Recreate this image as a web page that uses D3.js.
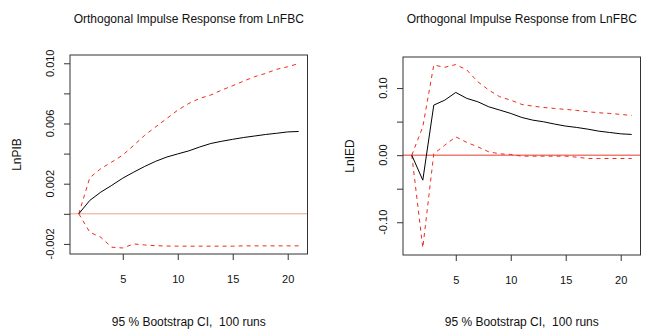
<!DOCTYPE html>
<html>
<head>
<meta charset="utf-8">
<script src="https://cdn.jsdelivr.net/npm/d3@7"></script>
<style>
  body { margin: 0; background: #fff; }
  text { font-family: "Liberation Sans", Arial, sans-serif; fill: #111; }
</style>
</head>
<body>
<div id="chart-area"></div>
<script>
// horizons 1..21
var horizon = d3.range(1, 22);

// response of LnPIB to LnFBC
var pibIrf = [0, 0.00089, 0.00144, 0.00189, 0.00237, 0.00277, 0.00315, 0.00349, 0.00377, 0.00398, 0.00418,
              0.00444, 0.00467, 0.00482, 0.00495, 0.00507, 0.00517, 0.00527, 0.00535, 0.00544, 0.00547];
var pibUpper = [0, 0.00240, 0.00300, 0.00344, 0.00390, 0.00455, 0.00522, 0.00578, 0.00633, 0.00689, 0.00733,
                0.00767, 0.00789, 0.00822, 0.00851, 0.00882, 0.00911, 0.00933, 0.00960, 0.00977, 0.00998];
var pibLower = [0, -0.00122, -0.00156, -0.00222, -0.00227, -0.00200, -0.00207, -0.00212, -0.00214, -0.00215, -0.00215,
                -0.00215, -0.00215, -0.00215, -0.00215, -0.00213, -0.00213, -0.00213, -0.00213, -0.00213, -0.00213];

// response of LnIED to LnFBC
var iedIrf = [0, -0.0373, 0.0746, 0.0820, 0.0935, 0.0846, 0.0796, 0.0721, 0.0672, 0.0622, 0.0562,
              0.0522, 0.0497, 0.0463, 0.0433, 0.0413, 0.0388, 0.0358, 0.0338, 0.0318, 0.0309];
var iedUpper = [0, 0.0423, 0.1343, 0.1310, 0.1350, 0.1270, 0.1094, 0.0970, 0.0870, 0.0820, 0.0756,
                0.0731, 0.0711, 0.0696, 0.0682, 0.0667, 0.0647, 0.0632, 0.0622, 0.0607, 0.0592];
var iedLower = [0, -0.1380, 0.0020, 0.0149, 0.0273, 0.0190, 0.0124, 0.0050, 0.0020, 0.0010, -0.0015,
                -0.0015, -0.0015, -0.0015, -0.0015, -0.0030, -0.0050, -0.0050, -0.0050, -0.0050, -0.0050];

var xTicks = [5, 10, 15, 20];
var pibTicks = [-0.002, 0, 0.002, 0.004, 0.006, 0.008, 0.010];
var pibLabels = [-0.002, 0.002, 0.006, 0.010];
var iedTicks = [-0.10, -0.05, 0, 0.05, 0.10];
var iedLabels = [-0.10, 0.00, 0.10];

var svg = d3.select("#chart-area").append("svg").attr("width", 652).attr("height", 336);

function panel(p) {
	var x = d3.scaleLinear().domain([0.2, 21.8]).range([p.left, p.right]);
	var y = d3.scaleLinear().domain(p.yDomain).range([p.bottom, p.top]);
	var g = svg.append("g");
	var mid = (p.left + p.right) / 2;

	g.append("text").attr("x", mid).attr("y", 23).attr("text-anchor", "middle")
		.attr("font-size", "12px").text("Orthogonal Impulse Response from LnFBC");
	g.append("text").attr("x", mid).attr("y", 326).attr("text-anchor", "middle")
		.attr("font-size", "12px").attr("xml:space", "preserve").text("95 % Bootstrap CI,  100 runs");
	g.append("text").attr("transform", "translate(" + (p.left - 49) + "," + ((p.top + p.bottom) / 2) + ") rotate(-90)")
		.attr("text-anchor", "middle").attr("font-size", "12px").text(p.ylab);

	// zero line
	g.append("line").attr("x1", p.left).attr("x2", p.right).attr("y1", y(0)).attr("y2", y(0))
		.attr("stroke", p.zeroCol).attr("stroke-width", 1);

	var line = d3.line().x((d, i) => x(horizon[i])).y((d) => y(d));
	[p.upper, p.lower].forEach((s) => {
		g.append("path").datum(s).attr("d", line).attr("fill", "none")
			.attr("stroke", "#ee2a1e").attr("stroke-width", 1).attr("stroke-dasharray", "4,4");
	});
	g.append("path").datum(p.irf).attr("d", line).attr("fill", "none")
		.attr("stroke", "#000").attr("stroke-width", 1);

	// box
	g.append("rect").attr("x", p.left).attr("y", p.top).attr("width", p.right - p.left).attr("height", p.bottom - p.top)
		.attr("fill", "none").attr("stroke", "#333").attr("stroke-width", 1);

	// x axis
	var xAxis = d3.axisBottom(x).tickValues(xTicks).tickSize(6).tickPadding(15).tickFormat(d3.format("d"));
	var xg = g.append("g").attr("transform", "translate(0," + p.bottom + ")").call(xAxis);
	xg.select(".domain").remove();
	xg.selectAll("line").attr("stroke", "#333");
	xg.selectAll("text").attr("font-size", "11px").attr("font-family", "Liberation Sans, Arial, sans-serif").attr("fill", "#111");

	// y axis, labels rotated like R
	var yAxis = d3.axisLeft(y).tickValues(p.ticks).tickSize(6).tickFormat("");
	var yg = g.append("g").attr("transform", "translate(" + p.left + ",0)").call(yAxis);
	yg.select(".domain").remove();
	yg.selectAll("line").attr("stroke", "#333");
	g.selectAll(".ylab" + p.ylab).data(p.labels).enter().append("text")
		.attr("transform", (d) => "translate(" + (p.left - 16) + "," + y(d) + ") rotate(-90)")
		.attr("text-anchor", "middle").attr("font-size", "11px")
		.text((d) => d3.format(p.fmt)(d).replace("−", "-"));
}

panel({left: 70, right: 307.5, top: 55, bottom: 254, yDomain: [-0.00267, 0.01055],
	irf: pibIrf, upper: pibUpper, lower: pibLower, ticks: pibTicks, labels: pibLabels,
	fmt: ".3f", ylab: "LnPIB", zeroCol: "#f0a090"});
panel({left: 403, right: 640.5, top: 57, bottom: 255, yDomain: [-0.1488, 0.1463],
	irf: iedIrf, upper: iedUpper, lower: iedLower, ticks: iedTicks, labels: iedLabels,
	fmt: ".2f", ylab: "LnIED", zeroCol: "#e83a30"});
</script>
</body>
</html>
